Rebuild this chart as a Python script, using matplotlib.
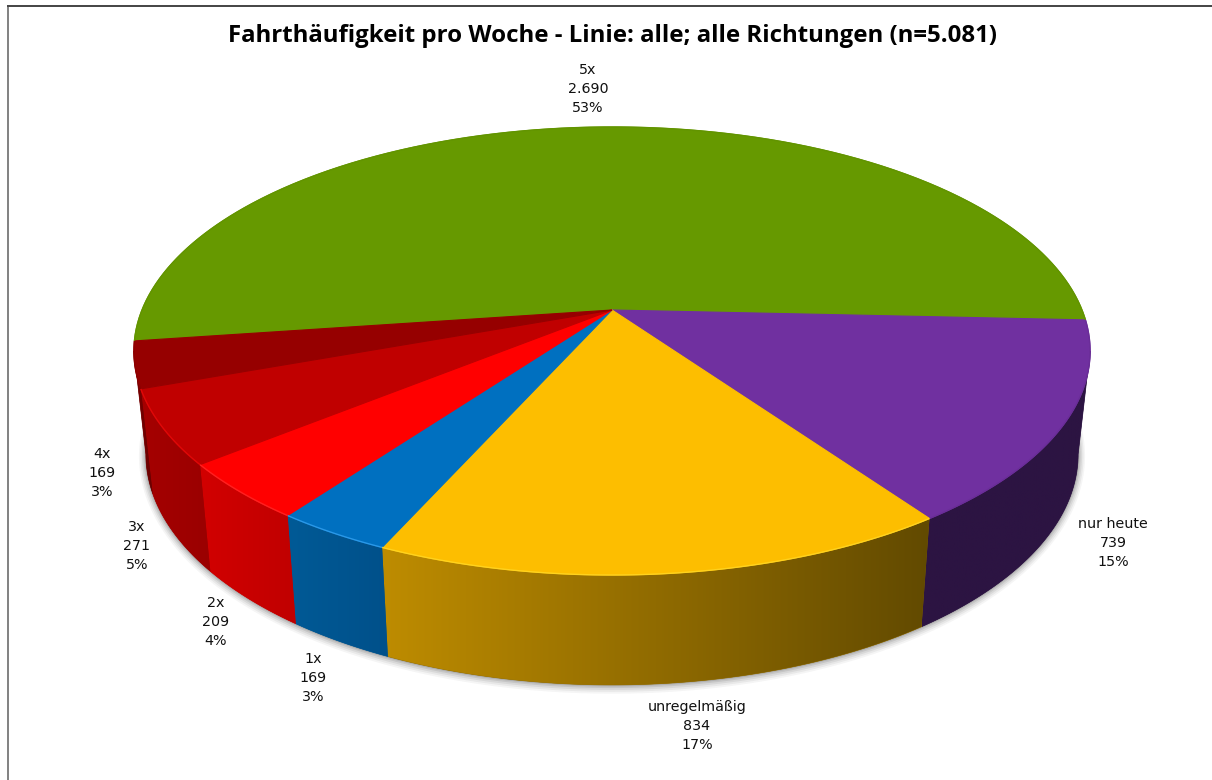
import numpy as np
import matplotlib
matplotlib.use("Agg")
import matplotlib.pyplot as plt
from matplotlib.colors import to_rgb
from matplotlib.patches import Polygon

categories = ["5x", "nur heute", "unregelmäßig", "1x", "2x", "3x", "4x"]
values = [2690, 739, 834, 169, 209, 271, 169]
value_labels = ["2.690", "739", "834", "169", "209", "271", "169"]
percent_labels = ["53%", "15%", "17%", "3%", "4%", "5%", "3%"]
title = "Fahrthäufigkeit pro Woche - Linie: alle; alle Richtungen (n=5.081)"

top_colors = ["#669900", "#7030A0", "#FDBE00", "#0070C0", "#FF0000", "#C00000", "#960000"]
rim_colors = ["#629400", "#6A2D98", "#FFD21E", "#2A98E8", "#FF2020", "#E00808", "#8E0000"]
side_left = ["#4A6E00", "#2C1442", "#BE8C00", "#005A96", "#D20000", "#A50000", "#7A0000"]
side_right = ["#4A6E00", "#2C1442", "#624A00", "#00508A", "#C00000", "#9A0000", "#6A0000"]
label_x = [588, 1113, 697, 313, 216, 137, 102]
label_y = [89, 543, 726, 678, 622, 546, 473]

CX, CY = 612, 310
A, B, K = 470, 216.5, 0.183
START = 262.0


def top_pt(theta):
    t = np.radians(theta)
    s = 1 / (1 + K * np.cos(t))
    return CX + A * np.sin(t) * s, CY - B * np.cos(t) * s


def bot_pt(theta):
    x, y = top_pt(theta)
    return CX + (x - CX) * 0.975, CY + (y - CY) * 1.03 + 102


plt.rcParams["font.family"] = ["DejaVu Sans"]
fig = plt.figure(figsize=(12.12, 7.8), dpi=100)
ax = fig.add_axes([0, 0, 1, 1])
ax.axis("off")

ax.plot([7.5, 7.5], [6.5, 780], color="#777777", lw=1.3, solid_capstyle="butt")
ax.plot([7, 1212], [6.3, 6.3], color="#111111", lw=1.1, solid_capstyle="butt")

spans = np.array(values) / sum(values) * 360
starts = START + np.concatenate([[0], np.cumsum(spans)[:-1]])

# soft shadow under the pie
full = np.linspace(0, 360, 361)
bx, by = bot_pt(full)
for d, a in zip([7, 5.5, 4, 2.5, 1.2], [0.05, 0.07, 0.09, 0.12, 0.16]):
    ax.fill(CX + (bx - CX) * (1 + d / 470), by + (by - (CY + 135)) * d / 240 + d * 0.25,
            color="#404040", alpha=a, lw=0, zorder=1)

# side wall: a horizontal gradient clipped to the visible part of each slice's wall.
# The wall shows between the two angles where the projected rim is widest.
vis0 = np.degrees(np.arccos(-K)) + 360
vis1 = 720 - np.degrees(np.arccos(-K))
for i, (s0, sp) in enumerate(zip(starts, spans)):
    if i == 0:
        continue
    a0 = max(s0, vis0)
    a1 = min(s0 + sp, vis1)
    th = np.linspace(a0, a1, max(int((a1 - a0) * 2), 8))
    tx, ty = top_pt(th)
    ux, uy = bot_pt(th)
    px = np.r_[tx, ux[::-1]]
    py = np.r_[ty, uy[::-1]]
    c0 = np.array(to_rgb(side_left[i]))
    c1 = np.array(to_rgb(side_right[i]))
    ramp = np.linspace(0, 1, 256)[None, :, None]
    img = c0[None, None, :] + (c1 - c0)[None, None, :] * ramp
    poly = Polygon(np.c_[px, py], closed=True, facecolor=(c0 + c1) / 2, edgecolor=(c0 + c1) / 2,
                   lw=0.5, zorder=2)
    ax.add_patch(poly)
    im = ax.imshow(img, extent=(px.min(), px.max(), py.max(), py.min()), aspect="auto",
                   interpolation="bilinear", zorder=2.05)
    im.set_clip_path(poly)

# top surface
for i, (s0, sp) in enumerate(zip(starts, spans)):
    th = np.linspace(s0, s0 + sp, max(int(sp * 2), 8))
    tx, ty = top_pt(th)
    ax.fill(np.r_[CX, tx], np.r_[CY, ty], facecolor=top_colors[i], edgecolor=top_colors[i], lw=0.8, zorder=4)
for i, (s0, sp) in enumerate(zip(starts, spans)):
    th = np.linspace(s0, s0 + sp, max(int(sp * 2), 8))
    tx, ty = top_pt(th)
    ax.plot(tx, ty, color=rim_colors[i], lw=1.0, zorder=5, solid_capstyle="butt")

ax.set_xlim(0, 1212)
ax.set_ylim(780, 0)

ax.text(612, 35.5, title, ha="center", va="center", fontsize=17.25, fontweight="bold", family="Open Sans",
        color="black", zorder=6)
for i, cat in enumerate(categories):
    ax.text(label_x[i], label_y[i], f"{cat}\n{value_labels[i]}\n{percent_labels[i]}", ha="center", va="center",
            fontsize=10.3, color="#111111", linespacing=1.47, zorder=6)

fig.savefig("out.png", dpi=100, facecolor="white")
